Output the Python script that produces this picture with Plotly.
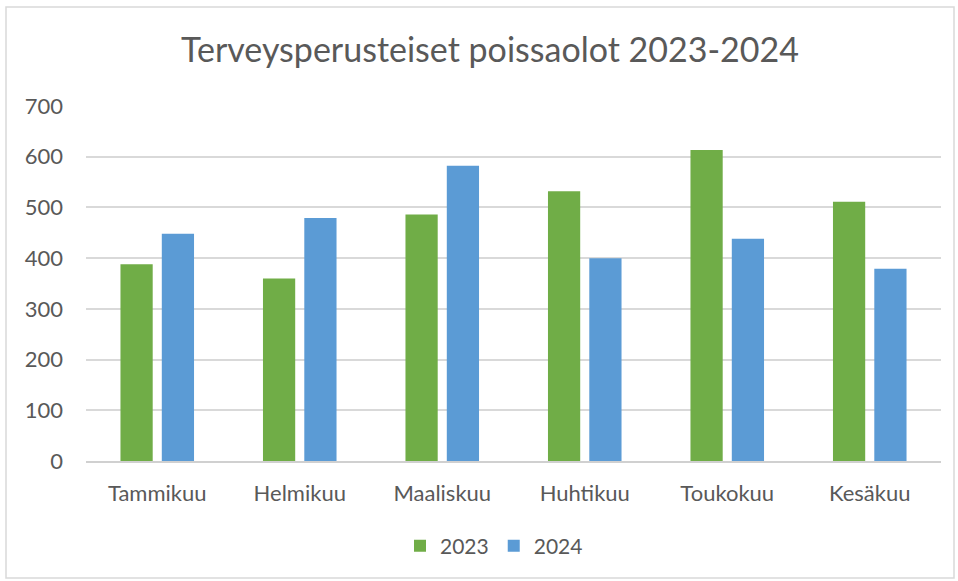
import plotly.graph_objects as go

months = ["Tammikuu", "Helmikuu", "Maaliskuu", "Huhtikuu", "Toukokuu", "Kesäkuu"]
values_2023 = [388, 360, 486, 532, 613, 511]
values_2024 = [448, 479, 582, 400, 438, 379]
y_ticks = [0, 100, 200, 300, 400, 500, 600, 700]

W, H = 958, 581
L, R, T, B = 86, 17, 106, 120
pw, ph = W - L - R, H - T - B

def px_x(p):
    return (p - L) / pw

def px_y(p):
    return (H - B - p) / ph

font = "Lato, Open Sans, sans-serif"
txt = "#595959"

fig = go.Figure()
fig.add_trace(go.Bar(name="2023", x=months, y=values_2023, marker=dict(color="#70AD47", line=dict(width=0))))
fig.add_trace(go.Bar(name="2024", x=months, y=values_2024, marker=dict(color="#5B9BD5", line=dict(width=0))))

fig.update_layout(
    width=W, height=H,
    margin=dict(l=L, r=R, t=T, b=B, autoexpand=False),
    paper_bgcolor="white", plot_bgcolor="white",
    barmode="group", bargap=0.42, bargroupgap=0.22,
    title=dict(text="Terveysperusteiset poissaolot 2023-2024", x=490 / W, xanchor="center",
               y=1 - 50 / H, yanchor="middle", font=dict(family=font, size=34, color=txt)),
    font=dict(family=font, color=txt),
    legend=dict(orientation="h", x=px_x(494), xanchor="center", y=px_y(546), yanchor="middle",
                font=dict(family=font, size=21, color=txt), itemwidth=30, traceorder="normal"),
    xaxis=dict(showgrid=False, showline=True, linecolor="#D0D0D0", linewidth=1.5,
               tickfont=dict(size=22, color=txt), ticks="", ticklabelstandoff=12),
    yaxis=dict(range=[0, 700], tickvals=y_ticks, showgrid=True, gridcolor="#D9D9D9", gridwidth=1.5,
               zeroline=False, showline=False, ticks="", tickfont=dict(size=22, color=txt),
               ticklabelstandoff=22),
    shapes=[dict(type="rect", xref="paper", yref="paper",
                 x0=px_x(6), x1=px_x(954), y0=px_y(578), y1=px_y(7),
                 line=dict(color="#D9D9D9", width=1.5), fillcolor="rgba(0,0,0,0)", layer="below")],
)

fig.write_html("out.html", config={"displayModeBar": False},
               post_script="document.body.style.margin='0';document.body.style.padding='0';")
